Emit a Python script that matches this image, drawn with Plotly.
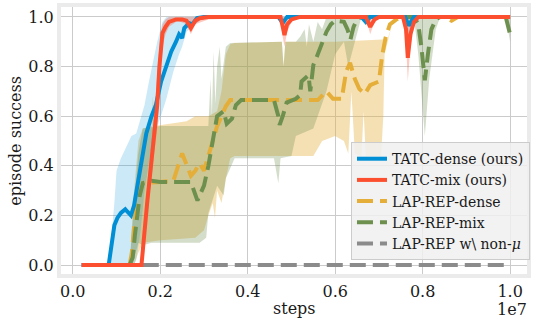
import plotly.graph_objects as go

STEP_UNIT = 1e6  # x values below are in millions of steps

# ---------------- data (x in millions of steps) ----------------
tatc_dense_x = [0.2, 0.82, 0.95, 1.02, 1.1, 1.2, 1.25, 1.33, 1.4, 1.48, 1.55, 1.62, 1.68, 1.8, 1.9,
                2.02, 2.14, 2.25, 2.36, 2.43, 2.5, 2.55, 2.66, 2.73, 2.84, 3.0, 4.7, 4.8, 4.9,
                6.6, 6.7, 6.8, 7.6, 7.68, 7.8, 10.0]
tatc_dense_y = [0.0, 0.0, 0.16, 0.19, 0.21, 0.225, 0.215, 0.2, 0.24, 0.32, 0.4, 0.48, 0.53, 0.6, 0.645,
                0.74, 0.8, 0.86, 0.9, 0.93, 0.915, 0.955, 0.975, 0.97, 0.995, 1.0, 1.0, 0.975, 1.0,
                1.0, 0.98, 1.0, 1.0, 0.965, 1.0, 1.0]
tatc_dense_hi_x = [0.8, 0.85, 0.95, 1.0, 1.1, 1.23, 1.34, 1.45, 1.52, 1.64, 1.73, 1.82, 1.93, 2.05, 2.14, 10.0]
tatc_dense_hi_y = [0.0, 0.05, 0.25, 0.38, 0.43, 0.48, 0.52, 0.53, 0.57, 0.645, 0.73, 0.81, 0.9, 0.98, 1.0, 1.0]
tatc_dense_lo_x = [0.8, 1.4, 1.45, 1.52, 1.55, 1.64, 1.73, 1.82, 1.93, 2.05, 2.14, 2.2, 2.3, 2.43, 2.5,
                   2.6, 2.8, 3.0, 4.75, 4.8, 4.9, 6.65, 6.75, 6.85, 7.6, 7.68, 7.8, 10.0]
tatc_dense_lo_y = [0.0, 0.0, 0.02, 0.1, 0.14, 0.3, 0.4, 0.5, 0.56, 0.62, 0.67, 0.71, 0.78, 0.85, 0.88,
                   0.94, 0.97, 1.0, 1.0, 0.95, 1.0, 1.0, 0.96, 1.0, 1.0, 0.93, 1.0, 1.0]

tatc_mix_x = [0.2, 1.57, 1.7, 1.86, 1.93, 1.98, 2.05, 2.12, 2.2, 2.36, 2.5, 2.6, 2.7, 2.8, 2.9, 3.1,
              4.75, 4.8, 4.84, 4.9, 5.0, 5.2, 6.7, 6.8, 6.9, 7.0, 7.55, 7.62, 7.66, 7.72, 7.8, 7.9, 10.0]
tatc_mix_y = [0.0, 0.0, 0.25, 0.52, 0.645, 0.8, 0.935, 0.96, 0.98, 0.99, 0.99, 0.985, 0.955, 0.985, 0.995, 1.0,
              1.0, 0.96, 0.927, 0.97, 0.99, 1.0, 1.0, 0.96, 0.99, 1.0, 1.0, 0.95, 0.835, 0.93, 0.98, 1.0, 1.0]
tatc_mix_hi_x = [1.57, 1.62, 1.7, 1.86, 1.93, 1.98, 2.05, 2.12, 2.2, 10.0]
tatc_mix_hi_y = [0.0, 0.12, 0.32, 0.6, 0.75, 0.88, 0.97, 0.99, 1.0, 1.0]
tatc_mix_lo_x = [1.57, 1.62, 1.7, 1.86, 1.93, 1.98, 2.05, 2.12, 2.2, 2.4, 2.6, 2.7, 2.8, 3.1,
                 4.75, 4.8, 4.84, 4.9, 5.0, 5.2, 6.7, 6.8, 6.9, 7.0, 7.55, 7.62, 7.66, 7.72, 7.8, 7.9, 10.0]
tatc_mix_lo_y = [0.0, 0.02, 0.2, 0.45, 0.55, 0.7, 0.88, 0.93, 0.96, 0.985, 0.97, 0.93, 0.97, 0.99,
                 1.0, 0.92, 0.88, 0.94, 0.98, 1.0, 1.0, 0.93, 0.98, 1.0, 1.0, 0.9, 0.74, 0.88, 0.96, 1.0, 1.0]

lap_dense_x = [1.3, 1.35, 1.4, 1.45, 1.5, 1.6, 2.0, 2.3, 2.5, 2.6, 2.7, 2.8, 2.9, 3.0, 3.1, 3.2, 3.3,
               3.4, 3.5, 3.6, 5.6, 5.8, 5.95, 6.15, 6.25, 6.34, 6.45, 6.55, 6.68, 6.8, 7.0, 7.07,
               7.15, 7.25, 7.4, 7.6, 8.5, 8.66, 8.8, 10.0]
lap_dense_y = [0.0, 0.05, 0.15, 0.23, 0.27, 0.33, 0.335, 0.34, 0.45, 0.41, 0.36, 0.38, 0.41, 0.38, 0.44, 0.5, 0.56,
               0.6, 0.64, 0.665, 0.665, 0.7, 0.67, 0.67, 0.78, 0.815, 0.75, 0.71, 0.69, 0.725, 0.74, 0.84,
               0.915, 0.97, 0.99, 1.0, 1.0, 0.985, 1.0, 1.0]
lap_dense_hi_x = [1.3, 1.4, 1.5, 1.6, 1.8, 1.83, 1.87, 2.6, 2.8, 3.1, 3.3, 3.4, 3.5, 3.6, 3.7,
                  4.78, 4.82, 4.86, 6.0, 7.2, 7.3, 7.5, 10.0]
lap_dense_hi_y = [0.0, 0.3, 0.5, 0.55, 0.56, 0.68, 0.56, 0.58, 0.6, 0.6, 0.62, 0.7, 0.85, 0.89, 0.895,
                  0.9, 0.8, 0.9, 0.9, 0.91, 0.97, 1.0, 1.0]
lap_dense_lo_x = [1.3, 1.4, 1.5, 1.6, 2.0, 2.8, 3.0, 3.1, 3.2, 3.25, 3.3, 3.4, 3.5, 3.6, 3.7, 5.5, 5.7,
                  6.0, 6.2, 6.3, 6.37, 6.45, 6.6, 6.65, 6.7, 7.05, 7.1, 7.13, 7.3, 7.5, 10.0]
lap_dense_lo_y = [0.0, 0.0, 0.05, 0.09, 0.1, 0.11, 0.14, 0.2, 0.25, 0.19, 0.3, 0.25, 0.35, 0.43, 0.44, 0.44, 0.5,
                  0.52, 0.5, 0.45, 0.7, 0.45, 0.44, 0.62, 0.44, 0.44, 0.6, 0.85, 0.97, 1.0, 1.0]

lap_mix_x = [1.3, 1.37, 1.42, 1.48, 1.53, 1.6, 1.8, 2.0, 2.7, 2.85, 3.0, 3.1, 3.2, 3.3, 3.45, 3.52, 3.64,
             3.73, 3.85, 4.6, 4.7, 4.73, 4.8, 4.89, 5.1, 5.2, 5.23, 5.39, 5.43, 5.5, 5.57, 5.68, 5.8,
             5.9, 6.0, 6.2, 6.28, 6.35, 6.42, 6.5, 6.6, 7.8, 7.9, 7.97, 8.05, 8.12, 8.2, 8.3, 8.4,
             9.9, 10.0]
lap_mix_y = [0.0, 0.03, 0.12, 0.21, 0.28, 0.33, 0.34, 0.335, 0.335, 0.26, 0.32, 0.4, 0.5, 0.6, 0.62, 0.57, 0.59,
             0.645, 0.665, 0.665, 0.6, 0.565, 0.6, 0.655, 0.67, 0.685, 0.74, 0.765, 0.7, 0.806, 0.835, 0.89, 0.94,
             0.97, 0.985, 0.98, 0.95, 0.91, 0.96, 0.99, 1.0, 1.0, 0.97, 0.88, 0.745, 0.85, 0.95, 0.99, 1.0,
             1.0, 0.93]
lap_mix_hi_x = [1.3, 1.4, 1.5, 1.6, 2.0, 3.1, 3.15, 3.18, 3.22, 3.26, 3.3, 3.36, 3.4, 3.5, 3.6,
                4.78, 4.82, 4.86, 5.1, 5.2, 5.3, 5.35, 5.4, 5.5, 5.6, 5.7, 5.8, 10.0]
lap_mix_hi_y = [0.0, 0.25, 0.45, 0.55, 0.56, 0.56, 0.75, 0.6, 0.86, 0.65, 0.8, 0.88, 0.75, 0.88, 0.895,
                0.9, 0.8, 0.9, 0.9, 0.92, 0.95, 0.88, 0.97, 0.9, 0.98, 0.95, 1.0, 1.0]
lap_mix_lo_x = [1.3, 1.4, 1.5, 1.6, 1.8, 2.9, 3.05, 3.1, 3.3, 3.45, 3.5, 3.7, 4.6, 4.7, 4.75, 5.0, 5.1,
                5.5, 5.8, 6.0, 6.2, 6.3, 6.35, 6.45, 6.6, 7.8, 7.9, 8.05, 8.15, 8.3, 8.4, 9.9, 10.0]
lap_mix_lo_y = [0.0, 0.03, 0.09, 0.08, 0.09, 0.09, 0.11, 0.21, 0.32, 0.28, 0.35, 0.43, 0.43, 0.33, 0.43, 0.44, 0.52,
                0.55, 0.7, 0.85, 0.9, 0.8, 0.84, 0.9, 1.0, 1.0, 0.85, 0.52, 0.75, 0.95, 1.0, 1.0, 0.9]

lap_nonmu_x = [1.6, 10.0]
lap_nonmu_y = [0.0, 0.0]

x_tick_vals = [0, 2, 4, 6, 8, 10]
x_tick_text = ["0.0", "0.2", "0.4", "0.6", "0.8", "1.0"]
y_tick_vals = [0.0, 0.2, 0.4, 0.6, 0.8, 1.0]
y_tick_text = ["0.0", "0.2", "0.4", "0.6", "0.8", "1.0"]

# ---------------- styles ----------------
BLUE, RED, GOLD, GREEN, GRAY = "#008fd5", "#fc4f30", "#e5ae38", "#6d904f", "#8b8b8b"
FONT = "DejaVu Serif"


def steps(xs):
    return [v * STEP_UNIT for v in xs]


def band(hx, hy, lx, ly, color, alpha):
    r, g, b = int(color[1:3], 16), int(color[3:5], 16), int(color[5:7], 16)
    return go.Scatter(x=steps(hx) + steps(lx)[::-1], y=list(hy) + list(ly)[::-1],
                      fill="toself", mode="lines", line=dict(width=0),
                      fillcolor=f"rgba({r},{g},{b},{alpha})", hoverinfo="skip", showlegend=False)


fig = go.Figure()
fig.add_trace(band(lap_dense_hi_x, lap_dense_hi_y, lap_dense_lo_x, lap_dense_lo_y, GOLD, 0.38))
fig.add_trace(band(lap_mix_hi_x, lap_mix_hi_y, lap_mix_lo_x, lap_mix_lo_y, GREEN, 0.3))
fig.add_trace(band(tatc_dense_hi_x, tatc_dense_hi_y, tatc_dense_lo_x, tatc_dense_lo_y, BLUE, 0.2))
fig.add_trace(band(tatc_mix_hi_x, tatc_mix_hi_y, tatc_mix_lo_x, tatc_mix_lo_y, RED, 0.3))

DASH = "16px,7px"
lines = [
    ("LAP-REP w\\ non-<i>\u03bc</i>", lap_nonmu_x, lap_nonmu_y, GRAY, DASH, 5),
    ("LAP-REP-dense", lap_dense_x, lap_dense_y, GOLD, DASH, 3),
    ("LAP-REP-mix", lap_mix_x, lap_mix_y, GREEN, DASH, 4),
    ("TATC-dense (ours)", tatc_dense_x, tatc_dense_y, BLUE, "solid", 1),
    ("TATC-mix (ours)", tatc_mix_x, tatc_mix_y, RED, "solid", 2),
]
for name, xs, ys, col, dash, rank in lines:
    fig.add_trace(go.Scatter(x=steps(xs), y=ys, mode="lines", name=name, legendrank=rank,
                             line=dict(color=col, width=4, dash=dash)))

axis_common = dict(showgrid=True, gridcolor="#cbcbcb", gridwidth=1.2, zeroline=False,
                   showline=True, mirror=True, linecolor="#ebebeb", linewidth=4,
                   ticks="", tickfont=dict(family=FONT, size=16, color="#1a1a1a"))

fig.update_layout(
    width=534, height=320,
    margin=dict(l=61, r=4, t=7, b=46),
    paper_bgcolor="white", plot_bgcolor="white",
    font=dict(family=FONT, size=16, color="#1a1a1a"),
    xaxis=dict(range=[-0.27e6, 10.386e6], tickvals=steps(x_tick_vals), ticktext=x_tick_text, **axis_common),
    yaxis=dict(range=[-0.036, 1.040], tickvals=y_tick_vals, ticktext=y_tick_text, **axis_common),
    legend=dict(x=1.0064, y=0.052, xanchor="right", yanchor="bottom",
                bgcolor="rgba(240,240,240,0.85)", bordercolor="#cccccc", borderwidth=1,
                font=dict(family=FONT, size=14, color="#1a1a1a"), tracegroupgap=0),
    annotations=[
        dict(text="steps", x=0.501, y=-0.131, xref="paper", yref="paper", showarrow=False,
             xanchor="center", yanchor="middle", font=dict(family=FONT, size=16)),
        dict(text="1e7", x=1.0043, y=-0.133, xref="paper", yref="paper", showarrow=False,
             xanchor="right", yanchor="middle", font=dict(family=FONT, size=16)),
        dict(text="episode success", x=-0.098, y=0.5, xref="paper", yref="paper", showarrow=False,
             xanchor="center", yanchor="middle", textangle=-90, font=dict(family=FONT, size=16)),
    ],
)

fig.write_html("out.html", config={"displayModeBar": False},
               post_script="document.body.style.margin='0px';")
